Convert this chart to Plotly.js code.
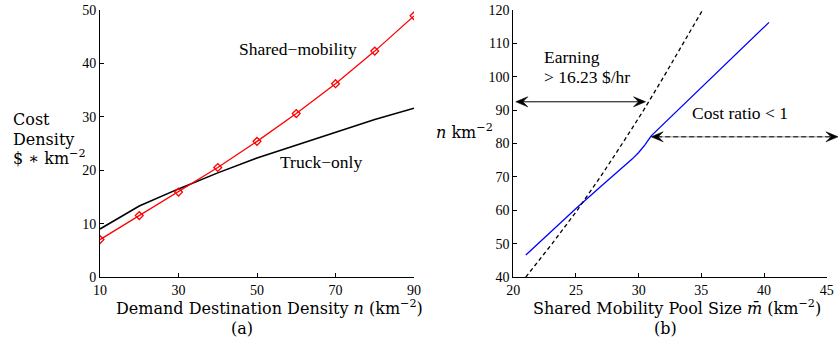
<!DOCTYPE html>
<html><head><meta charset="utf-8">
<script src="https://cdn.plot.ly/plotly-3.0.1.min.js"></script>
<style>html,body{margin:0;padding:0;background:#fff}#chart{width:838px;height:346px}</style>
</head><body><div id="chart"></div>
<script>
// ---- data (a) ----
const demandDensity = [10, 20, 30, 40, 50, 60, 70, 80, 90];
const sharedCost    = [7.0, 11.5, 15.9, 20.5, 25.4, 30.6, 36.2, 42.3, 48.9];
const truckCost     = [9.0, 13.3, 16.5, 19.5, 22.3, 24.7, 27.2, 29.5, 31.6];
const xTicksA = [10, 30, 50, 70, 90];
const yTicksA = [0, 10, 20, 30, 40, 50];
// ---- data (b) ----
const costPoolSize  = [21.0, 23.0, 25.0, 27.0, 28.0, 29.0, 29.5, 30.0, 30.5, 31.0, 35.0, 40.4];
const costDensity   = [46.6, 53.6, 60.5, 67.2, 70.4, 73.6, 75.4, 77.3, 79.6, 82.3, 96.8, 116.3];
const earnDensity   = [40, 50, 60, 70, 80, 90, 100, 110, 120];
const earnPoolSize  = [21.0, 23.1, 25.1, 26.95, 28.7, 30.4, 32.0, 33.55, 35.1];
const xTicksB = [20, 25, 30, 35, 40, 45];
const yTicksB = [40, 50, 60, 70, 80, 90, 100, 110, 120];
const earnArrowX = [20.2, 30.55], earnArrowY = 92.5;
const costArrowX = [31.0, 45.9],  costArrowY = 82.0;

const W = 838, H = 346;
const xDomA = [100 / W, 414 / W];
const xDomB = [513.3 / W, 826.7 / W];
const yDom  = [1 - 277 / H, 1 - 10 / H];
const xRangeA = [10, 90], yRangeA = [0, 50], xRangeB = [20, 45], yRangeB = [40, 120];
const toPaper = (v, r, d) => d[0] + (v - r[0]) / (r[1] - r[0]) * (d[1] - d[0]);

const tickFont = {family: 'Liberation Serif, Times New Roman, serif', size: 14, color: '#000'};
const labelFont = {family: 'Liberation Serif, Times New Roman, serif', size: 17.5, color: '#000'};
const titleFont = {family: 'DejaVu Serif, serif', size: 16, color: '#000'};

function axis(dom, range, ticks, anchor) {
  return {domain: dom, range: range, tickvals: ticks, ticktext: ticks.map(String),
    anchor: anchor, showline: true, linecolor: '#000', linewidth: 1, mirror: false,
    ticks: 'inside', ticklen: 4, tickcolor: '#000', tickwidth: 1,
    showgrid: false, zeroline: false, tickfont: tickFont, automargin: false, fixedrange: true};
}

const traces = [
  {x: demandDensity, y: truckCost, xaxis: 'x', yaxis: 'y', mode: 'lines',
   line: {color: '#000', width: 1.6}, hoverinfo: 'skip'},
  {x: demandDensity, y: sharedCost, xaxis: 'x', yaxis: 'y', mode: 'lines+markers',
   line: {color: '#ff0000', width: 1.3},
   marker: {symbol: 'diamond-open', size: 6, color: '#ff0000', line: {width: 1.3}}, hoverinfo: 'skip'},
  {x: costPoolSize, y: costDensity, xaxis: 'x2', yaxis: 'y2', mode: 'lines',
   line: {color: '#0000ff', width: 1.3}, hoverinfo: 'skip'},
  {x: earnPoolSize, y: earnDensity, xaxis: 'x2', yaxis: 'y2', mode: 'lines',
   line: {color: '#000', width: 1.3, dash: '4px,3px'}, hoverinfo: 'skip'}
];

// arrow geometry (paper units) derived from the axis scales
const py  = toPaper(earnArrowY, yRangeB, yDom);
const ex0 = toPaper(earnArrowX[0], xRangeB, xDomB);
const ex1 = toPaper(earnArrowX[1], xRangeB, xDomB);
const cy  = toPaper(costArrowY, yRangeB, yDom);
const cx0 = toPaper(costArrowX[0], xRangeB, xDomB);
const cx1 = toPaper(costArrowX[1], xRangeB, xDomB);

// concave arrow head: tip at (tx, ty) pointing in direction dir (+1 right, -1 left)
function head(tx, ty, dir) {
  const L = 12 / W, N = 7 / W, h = 5 / H;
  const p = [[tx, ty], [tx - dir * L, ty + h], [tx - dir * N, ty], [tx - dir * L, ty - h]];
  return {type: 'path', xref: 'paper', yref: 'paper',
    path: 'M' + p.map(q => q[0] + ',' + q[1]).join('L') + 'Z',
    fillcolor: '#000', line: {color: '#000', width: 0.6}};
}

const annotations = [
  // panel (a) labels
  {text: 'Shared\u2212mobility', x: 44.8, y: 42.7, xref: 'x', yref: 'y', xanchor: 'left', yanchor: 'middle', showarrow: false, font: labelFont},
  {text: 'Truck\u2212only', x: 55.4, y: 21.6, xref: 'x', yref: 'y', xanchor: 'left', yanchor: 'middle', showarrow: false, font: labelFont},
  // panel (b) labels
  {text: 'Earning', x: 22.3, y: 106.0, xref: 'x2', yref: 'y2', xanchor: 'left', yanchor: 'middle', showarrow: false, font: labelFont},
  {text: '> 16.23 $/hr', x: 22.3, y: 100.0, xref: 'x2', yref: 'y2', xanchor: 'left', yanchor: 'middle', showarrow: false, font: labelFont},
  {text: 'Cost ratio < 1', x: 34.1, y: 89.1, xref: 'x2', yref: 'y2', xanchor: 'left', yanchor: 'middle', showarrow: false, font: labelFont},
  // axis titles
  {text: 'Demand Destination Density <i>n</i> (km<sup>\u22122</sup>)', x: 269 / W, y: 1 - 307 / H, xref: 'paper', yref: 'paper', xanchor: 'center', yanchor: 'middle', showarrow: false, font: titleFont},
  {text: '(a)', x: 242 / W, y: 1 - 328 / H, xref: 'paper', yref: 'paper', xanchor: 'center', yanchor: 'middle', showarrow: false, font: titleFont},
  {text: 'Shared Mobility Pool Size <i>m\u0304</i> (km<sup>\u22122</sup>)', x: 677 / W, y: 1 - 307 / H, xref: 'paper', yref: 'paper', xanchor: 'center', yanchor: 'middle', showarrow: false, font: titleFont},
  {text: '(b)', x: 665 / W, y: 1 - 328 / H, xref: 'paper', yref: 'paper', xanchor: 'center', yanchor: 'middle', showarrow: false, font: titleFont},
  {text: 'Cost', x: 11 / W, y: 1 - 119 / H, xref: 'paper', yref: 'paper', xanchor: 'left', yanchor: 'middle', showarrow: false, font: titleFont},
  {text: 'Density', x: 11 / W, y: 1 - 139 / H, xref: 'paper', yref: 'paper', xanchor: 'left', yanchor: 'middle', showarrow: false, font: titleFont},
  {text: '$ \u2217 km<sup>\u22122</sup>', x: 11 / W, y: 1 - 158 / H, xref: 'paper', yref: 'paper', xanchor: 'left', yanchor: 'middle', showarrow: false, font: titleFont},
  {text: '<i>n</i> km<sup>\u22122</sup>', x: 434 / W, y: 1 - 131 / H, xref: 'paper', yref: 'paper', xanchor: 'left', yanchor: 'middle', showarrow: false, font: titleFont}
];

const shapes = [
  // earning arrow
  {type: 'line', xref: 'paper', yref: 'paper', x0: ex0 + 6 / W, x1: ex1 - 6 / W, y0: py, y1: py, line: {color: '#000', width: 1}},
  head(ex0, py, -1), head(ex1, py, 1),
  // cost ratio arrow (dashed)
  {type: 'line', xref: 'paper', yref: 'paper', x0: cx0 + 6 / W, x1: cx1 - 6 / W, y0: cy, y1: cy, line: {color: '#999', width: 1}},
  {type: 'line', xref: 'paper', yref: 'paper', x0: cx0 + 6 / W, x1: cx1 - 6 / W, y0: cy, y1: cy, line: {color: '#000', width: 1, dash: '5px,3px'}},
  head(cx0, cy, -1), head(cx1, cy, 1)
];

const layout = {
  width: W, height: H, margin: {l: 0, r: 0, t: 0, b: 0},
  paper_bgcolor: '#fff', plot_bgcolor: '#fff', showlegend: false,
  xaxis: axis(xDomA, xRangeA, xTicksA, 'y'),
  yaxis: axis(yDom, yRangeA, yTicksA, 'x'),
  xaxis2: axis(xDomB, xRangeB, xTicksB, 'y2'),
  yaxis2: axis(yDom, yRangeB, yTicksB, 'x2'),
  annotations: annotations, shapes: shapes
};

Plotly.newPlot('chart', traces, layout, {displayModeBar: false, staticPlot: true});
</script></body></html>
